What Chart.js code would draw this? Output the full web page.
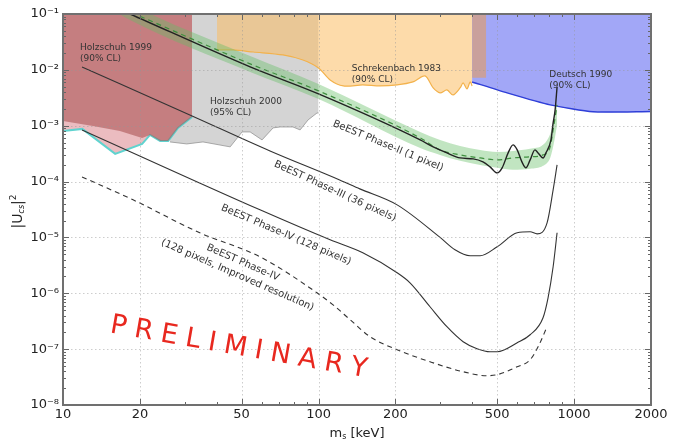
<!DOCTYPE html>
<html lang="en">
<head>
<meta charset="utf-8">
<title>BeEST sterile neutrino sensitivity</title>
<script src="https://cdn.jsdelivr.net/npm/chart.js@4.4.1/dist/chart.umd.min.js"></script>
<style>
  html, body { margin: 0; padding: 0; background: #ffffff; }
  #contenedor { width: 679px; height: 443px; }
</style>
</head>
<body>
<div id="contenedor"><canvas id="myChart" width="679" height="443"></canvas></div>
<script>
/*** Ejes */
var xTicks = [10, 20, 50, 100, 200, 500, 1000, 2000];
var yTicks = [1e-8, 1e-7, 1e-6, 1e-5, 1e-4, 1e-3, 1e-2, 1e-1];

/*** Regiones excluidas: [m_s (keV), |U|^2] del borde inferior */
var holzschuh2000 = [[26.2, 5.13e-4], [30.5, 4.72e-4], [35.3, 5.13e-4], [45.1, 4.18e-4], [50.2, 7.74e-4], [54, 7.74e-4],
    [60.1, 5.57e-4], [66.4, 9.14e-4], [70.7, 9.5e-4], [79.4, 9.5e-4], [84.7, 8.41e-4], [91, 1.27e-3], [98.6, 1.69e-3], [100, 1.69e-3]];
var bordeCian = [[10, 8.07e-4], [11.9, 8.77e-4], [16, 3.13e-4], [20.4, 4.72e-4], [21.9, 6.84e-4], [24, 5.35e-4],
    [25.8, 5.35e-4], [28.2, 9.14e-4], [32, 1.44e-3]];
var holzschuh1999 = [[10, 1.22e-3], [13.1, 9.9e-4], [16.7, 8.07e-4], [20.4, 6.05e-4], [21.9, 6.84e-4], [24, 5.35e-4],
    [25.8, 5.35e-4], [28.2, 9.14e-4], [32, 1.44e-3]];
var schrekenbach1983 = [[40, 2.27e-2], [46.3, 2.27e-2], [55.5, 2.09e-2], [72.6, 1.85e-2], [86.9, 1.5e-2], [100, 1.08e-2],
    [111, 6.59e-3], [125, 5.15e-3], [149, 5.37e-3], [174, 5.15e-3], [203, 5.37e-3], [234, 6.08e-3], [261, 7.78e-3],
    [281, 4.74e-3], [299, 3.87e-3], [318, 4.37e-3], [336, 3.56e-3], [358, 4.74e-3], [368, 5.84e-3], [381, 4.55e-3],
    [392, 6.08e-3], [399, 5.15e-3]];
var deutsch1990 = [[399, 6.08e-3], [547, 3.87e-3], [806, 2.36e-3], [1186, 1.77e-3], [2000, 1.8e-3]];
var franja = [[399, 7.2e-3], [453, 7.2e-3]];

/*** BeEST */
var bandaX   = [13.95, 18.3, 54, 100, 250, 299, 358, 429, 500, 577, 673, 756, 806, 828, 858];
var bandaSup = [0.316, 0.151, 1.77e-2, 5.6e-3, 7.74e-4, 5.57e-4, 4.35e-4, 3.69e-4, 3.4e-4, 3.54e-4, 3.85e-4, 4.54e-4, 7.13e-4, 1.12e-3, 2.56e-3];
var bandaInf = [0.164, 0.078, 9.17e-3, 3.01e-3, 4.0e-4, 3.0e-4, 2.35e-4, 1.99e-4, 1.76e-4, 1.62e-4, 1.69e-4, 1.91e-4, 2.65e-4, 4.18e-4, 1.03e-3];
var phase2Mediana = [[16, 0.142], [18.3, 0.109], [54, 1.28e-2], [100, 4.2e-3], [250, 6.05e-4], [299, 3.69e-4], [358, 3.0e-4],
    [429, 2.65e-4], [500, 2.44e-4], [577, 2.65e-4], [673, 2.77e-4], [756, 3.0e-4], [806, 4.18e-4], [828, 8.41e-4], [858, 2.36e-3]];
var phase2 = [[16, 0.131], [18.3, 0.1], [54, 1.13e-2], [100, 3.71e-3], [250, 5.57e-4], [281, 4.18e-4], [318, 3.26e-4],
    [358, 2.65e-4], [403, 2.55e-4], [440, 2.25e-4], [469, 1.83e-4], [500, 1.43e-4], [523, 1.76e-4], [552, 3.26e-4],
    [577, 4.54e-4], [599, 3.69e-4], [625, 2.25e-4], [648, 1.76e-4], [673, 2.44e-4], [703, 3.69e-4], [723, 3.26e-4],
    [756, 2.65e-4], [776, 3.26e-4], [812, 5.57e-4], [828, 1.12e-3], [843, 1.92e-3], [858, 4.94e-3]];
var phase3 = [[11.87, 1.13e-2], [32, 1.5e-3], [64.6, 3.54e-4], [121, 1.07e-4], [145, 7.4e-5], [203, 3.83e-5], [299, 1.0e-5],
    [342, 6.0e-6], [392, 4.69e-6], [429, 4.69e-6], [500, 6.79e-6], [599, 1.21e-5], [673, 1.26e-5], [717, 1.16e-5],
    [784, 1.82e-5], [828, 7.1e-5], [858, 1.99e-4]];
var phase4 = [[11.87, 8.41e-4], [59, 3.12e-5], [111, 9.06e-6], [149, 5.3e-6], [203, 2.33e-6], [228, 1.54e-6], [273, 5.74e-7],
    [318, 2.52e-7], [368, 1.36e-7], [417, 1.02e-7], [469, 8.98e-8], [500, 8.98e-8], [599, 1.3e-7], [673, 1.81e-7],
    [756, 3.65e-7], [791, 8.3e-7], [828, 2.98e-6], [858, 1.21e-5]];
var phase4Mejorada = [[11.87, 1.21e-4], [18.8, 4.71e-5], [34.3, 1.21e-5], [59, 4.5e-6], [98.6, 1.02e-6], [114, 6.2e-7],
    [133, 3.36e-7], [159, 1.67e-7], [203, 9.75e-8], [273, 5.95e-8], [368, 3.94e-8], [456, 3.34e-8], [500, 3.49e-8],
    [599, 4.84e-8], [673, 6.45e-8], [723, 1.1e-7], [784, 2.52e-7]];

/*** Textos (anclados en coordenadas de datos) */
var etiquetasRegion = [
    {lines: ['Holzschuh 1999', '(90% CL)'], x: 11.65, y: 2.27e-2},
    {lines: ['Holzschuh 2000', '(95% CL)'], x: 37.6, y: 2.45e-3},
    {lines: ['Schrekenbach 1983', '(90% CL)'], x: 135, y: 9.7e-3},
    {lines: ['Deutsch 1990', '(90% CL)'], x: 800, y: 7.55e-3}
];
var etiquetasCurva = [
    {lines: ['BeEST Phase-II (1 pixel)'], x: 187, y: 4.35e-4, angle: 22.5},
    {lines: ['BeEST Phase-III (36 pixels)'], x: 116, y: 6.7e-5, angle: 24.5},
    {lines: ['BeEST Phase-IV (128 pixels)'], x: 74.6, y: 1.11e-5, angle: 23},
    {lines: ['BeEST Phase-IV', '(128 pixels, Improved resolution)'], x: 50.6, y: 3.52e-6, angle: 23.5}
];
var preliminar = {text: 'PRELIMINARY', x: 48.2, y: 7.94e-8, angle: 9.9};

var FUENTE = '"DejaVu Sans", "Bitstream Vera Sans", sans-serif';
var sup = {'-': '\u207B', '0': '\u2070', '1': '\u00B9', '2': '\u00B2', '3': '\u00B3', '4': '\u2074',
           '5': '\u2075', '6': '\u2076', '7': '\u2077', '8': '\u2078', '9': '\u2079'};

function potencia(v) {
    var e = String(Math.round(Math.log10(v)));
    return '10' + e.split('').map(function (c) { return sup[c]; }).join('');
}
function pts(arr) { return arr.map(function (p) { return {x: p[0], y: p[1]}; }); }

function region(data, fill, border, bw, order, tension) {
    return {data: pts(data), fill: 'end', backgroundColor: fill, borderColor: border, borderWidth: bw,
            pointRadius: 0, tension: tension || 0, order: order};
}
function curva(data, color, width, dash, order) {
    return {data: pts(data), fill: false, borderColor: color, borderWidth: width, borderDash: dash,
            pointRadius: 0, cubicInterpolationMode: 'monotone', order: order};
}

// dibuja texto con subindices / superindices pieza a pieza
function textoCompuesto(c, piezas, cx, baseY) {
    var total = 0;
    piezas.forEach(function (p) { c.font = p.f; p.w = c.measureText(p.t).width; total += p.w; });
    var x0 = cx - total / 2;
    piezas.forEach(function (p) { c.font = p.f; c.fillText(p.t, x0, baseY + p.dy); x0 += p.w; });
}

var decoracion = {
    id: 'decoracion',
    afterDatasetsDraw: function (chart) {
        var c = chart.ctx, a = chart.chartArea, sx = chart.scales.x, sy = chart.scales.y;
        c.save();
        c.beginPath();
        c.rect(a.left, a.top, a.right - a.left, a.bottom - a.top);
        c.clip();

        // rejilla punteada
        c.strokeStyle = 'rgba(150,150,150,0.6)';
        c.lineWidth = 0.8;
        c.setLineDash([1.5, 2.5]);
        xTicks.forEach(function (v) {
            var px = Math.round(sx.getPixelForValue(v)) + 0.5;
            c.beginPath(); c.moveTo(px, a.top); c.lineTo(px, a.bottom); c.stroke();
        });
        yTicks.forEach(function (v) {
            var py = Math.round(sy.getPixelForValue(v)) + 0.5;
            c.beginPath(); c.moveTo(a.left, py); c.lineTo(a.right, py); c.stroke();
        });
        c.setLineDash([]);

        // marcas mayores y menores hacia adentro en los cuatro lados
        c.strokeStyle = '#666';
        c.lineWidth = 1;
        function marcaX(v, len) {
            var px = Math.round(sx.getPixelForValue(v)) + 0.5;
            c.beginPath(); c.moveTo(px, a.bottom); c.lineTo(px, a.bottom - len);
            c.moveTo(px, a.top); c.lineTo(px, a.top + len); c.stroke();
        }
        function marcaY(v, len) {
            var py = Math.round(sy.getPixelForValue(v)) + 0.5;
            c.beginPath(); c.moveTo(a.left, py); c.lineTo(a.left + len, py);
            c.moveTo(a.right, py); c.lineTo(a.right - len, py); c.stroke();
        }
        [10, 100, 1000].forEach(function (d) {
            for (var m = 1; m <= 9; m++) {
                var v = m * d;
                if (v > 2000) break;
                marcaX(v, xTicks.indexOf(v) >= 0 ? 6 : 3);
            }
        });
        yTicks.forEach(function (d) {
            marcaY(d, 6);
            if (d < 0.1) for (var m = 2; m <= 9; m++) marcaY(m * d, 3);
        });
        c.restore();

        // marco
        c.save();
        c.strokeStyle = '#707070';
        c.lineWidth = 2;
        c.strokeRect(a.left, a.top, a.right - a.left, a.bottom - a.top);
        c.restore();

        // etiquetas de regiones
        c.save();
        c.fillStyle = '#333';
        c.font = '9px ' + FUENTE;
        c.textAlign = 'left';
        c.textBaseline = 'alphabetic';
        etiquetasRegion.forEach(function (e) {
            var px = sx.getPixelForValue(e.x), py = sy.getPixelForValue(e.y);
            e.lines.forEach(function (t, i) { c.fillText(t, px, py + i * 11); });
        });
        c.restore();

        // etiquetas de curvas, giradas
        etiquetasCurva.forEach(function (e) {
            c.save();
            c.translate(sx.getPixelForValue(e.x), sy.getPixelForValue(e.y));
            c.rotate(e.angle * Math.PI / 180);
            c.fillStyle = '#333';
            c.font = '10px ' + FUENTE;
            c.textAlign = 'center';
            c.textBaseline = 'middle';
            e.lines.forEach(function (t, i) { c.fillText(t, 0, i * 13.5); });
            c.restore();
        });

        // PRELIMINARY con letras espaciadas
        c.save();
        c.translate(sx.getPixelForValue(preliminar.x), sy.getPixelForValue(preliminar.y));
        c.rotate(preliminar.angle * Math.PI / 180);
        c.fillStyle = '#e8281f';
        c.font = '27px ' + FUENTE;
        c.textAlign = 'left';
        c.textBaseline = 'alphabetic';
        var letras = preliminar.text.split(''), esp = 8, total = 0;
        letras.forEach(function (l) { total += c.measureText(l).width; });
        total += esp * (letras.length - 1);
        var lx = -total / 2;
        letras.forEach(function (l) { c.fillText(l, lx, 0); lx += c.measureText(l).width + esp; });
        c.restore();
    },
    afterDraw: function (chart) {
        var c = chart.ctx, a = chart.chartArea;
        c.save();
        c.fillStyle = '#222';
        c.textAlign = 'left';
        c.textBaseline = 'alphabetic';
        // titulo eje x: m_s [keV]
        textoCompuesto(c, [
            {t: 'm', f: '13px ' + FUENTE, dy: 0},
            {t: 's', f: '8px ' + FUENTE, dy: 2},
            {t: ' [keV]', f: '13px ' + FUENTE, dy: 0}
        ], (a.left + a.right) / 2, 437);
        // titulo eje y: |U_cs|^2
        c.translate(16, (a.top + a.bottom) / 2 + 2);
        c.rotate(-Math.PI / 2);
        textoCompuesto(c, [
            {t: '|U', f: '14px ' + FUENTE, dy: 0},
            {t: 'cs', f: 'italic 8px ' + FUENTE, dy: 2},
            {t: '|', f: '14px ' + FUENTE, dy: 0},
            {t: '2', f: '9px ' + FUENTE, dy: -6}
        ], 0, 6);
        c.restore();
    }
};

var datasets = [
    region(holzschuh2000, 'rgba(170,170,170,0.5)', 'rgba(150,150,150,0.8)', 1, 20),
    region(bordeCian, '#ebbcc0', '#5fd3cf', 2, 19),
    region(holzschuh1999, 'rgba(165,75,75,0.55)', 'rgba(0,0,0,0)', 0, 18),
    region(schrekenbach1983, 'rgba(252,190,100,0.55)', '#f3b24c', 1.2, 17, 0.3),
    region(deutsch1990, 'rgba(70,80,240,0.5)', '#2f3fd8', 1.5, 16, 0.2),
    region(franja, '#c9a09c', 'rgba(0,0,0,0)', 0, 15),
    {   // banda Phase-II, se rellena hasta el dataset siguiente
        data: pts(bandaX.map(function (x, i) { return [x, bandaSup[i]]; })),
        fill: '+1', backgroundColor: 'rgba(100,190,100,0.4)', borderWidth: 0, pointRadius: 0,
        cubicInterpolationMode: 'monotone', order: 14
    },
    {
        data: pts(bandaX.map(function (x, i) { return [x, bandaInf[i]]; })),
        fill: false, borderWidth: 0, pointRadius: 0, cubicInterpolationMode: 'monotone', order: 13
    },
    curva(phase2Mediana, '#3f8f3f', 1.2, [5, 4], 4),
    curva(phase2, '#222', 1.4, [], 3),
    curva(phase3, '#333', 1.1, [], 2),
    curva(phase4, '#333', 1.1, [], 2),
    curva(phase4Mejorada, '#333', 1.1, [5, 4], 2)
];

var myChart = new Chart(document.getElementById('myChart').getContext('2d'), {
    type: 'line',
    data: {datasets: datasets},
    options: {
        responsive: false,
        animation: false,
        layout: {padding: {top: 14, right: 28, left: 0, bottom: 0}},
        plugins: {legend: {display: false}, tooltip: {enabled: false}},
        scales: {
            x: {
                type: 'logarithmic', min: 10, max: 2000,
                afterBuildTicks: function (s) { s.ticks = xTicks.map(function (v) { return {value: v}; }); },
                afterFit: function (s) { s.height = 38; },
                grid: {display: false, drawTicks: false},
                border: {display: false},
                ticks: {
                    autoSkip: false, maxRotation: 0, padding: 2, color: '#222',
                    font: {family: FUENTE, size: 13},
                    callback: function (v) { return String(v); }
                }
            },
            y: {
                type: 'logarithmic', min: 1e-8, max: 1e-1,
                afterBuildTicks: function (s) { s.ticks = yTicks.map(function (v) { return {value: v}; }); },
                afterFit: function (s) { s.width = 63; },
                grid: {display: false, drawTicks: false},
                border: {display: false},
                ticks: {
                    autoSkip: false, padding: 4, color: '#222',
                    font: {family: FUENTE, size: 13},
                    callback: function (v) { return potencia(v); }
                }
            }
        }
    },
    plugins: [decoracion]
});
</script>
</body>
</html>
